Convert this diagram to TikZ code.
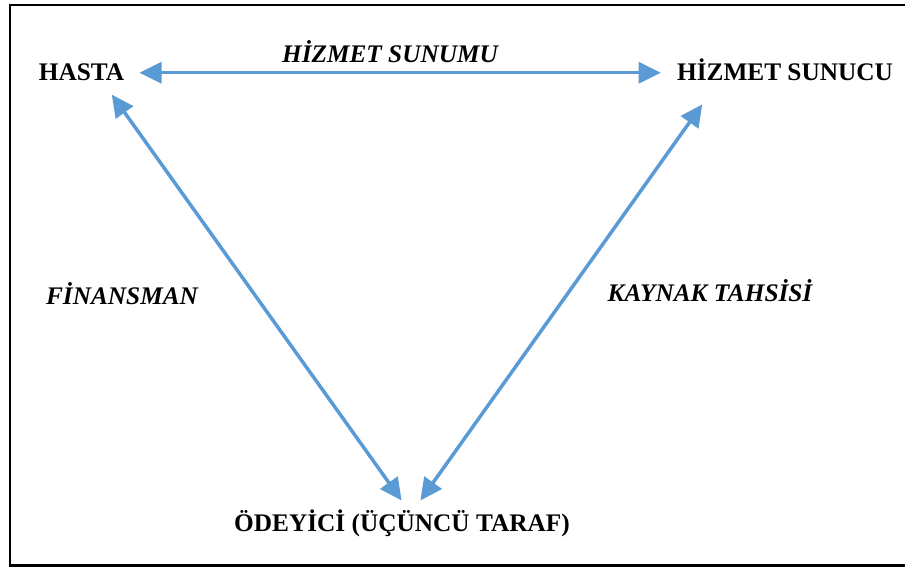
\documentclass[tikz,border=0pt]{standalone}
\usepackage{fontspec}
\setmainfont{Liberation Serif}
\usetikzlibrary{arrows.meta}
\definecolor{okmavi}{HTML}{5B9BD5}
\begin{document}
\begin{tikzpicture}[
		yazi/.style={inner sep=0pt, anchor=base, font=\fontsize{14.4}{17}\selectfont\bfseries},
		etiket/.style={yazi, font=\fontsize{14.4}{17}\selectfont\bfseries\itshape},
		ok/.style={okmavi, line width=2pt, {Triangle[length=0.44cm,width=0.42cm]}-{Triangle[length=0.44cm,width=0.42cm]}}]
				\useasboundingbox (0,0) rectangle (18.1,11.34);
				% Çerçeve
				\draw[line width=1.2pt] (18.1,11.24) -- (0.2,11.24) -- (0.2,0.03) -- (18.1,0.03);
				
				% Taraflar
				\node[yazi] (hasta) at (1.63,9.72) {HASTA};
				\node[yazi] (sunucu) at (15.70,9.72) {HİZMET SUNUCU};
				\node[yazi] (odeyici) at (8.04,0.71) {ÖDEYİCİ (ÜÇÜNCÜ TARAF)};
				
				% İlişkiler
				\draw[ok, shorten <=0.30cm, shorten >=0.32cm] (hasta.east) -- (hasta.east -| sunucu.west);
				\draw[ok, shorten <=0.32cm, shorten >=0.22cm] ([xshift=0.42cm]hasta.south) -- ([xshift=0.12cm]odeyici.north);
				\draw[ok, shorten <=0.56cm, shorten >=0.22cm] ([xshift=-1.33cm]sunucu.south) -- ([xshift=0.24cm]odeyici.north);
				
				% Etiketler
				\node[etiket] (sunumu) at (7.80,10.08) {HİZMET SUNUMU};
				\node[etiket] (finansman) at (2.44,5.24) {FİNANSMAN};
				\node[etiket] (kaynak) at (14.20,5.30) {KAYNAK TAHSİSİ};
			\end{tikzpicture}
\end{document}
